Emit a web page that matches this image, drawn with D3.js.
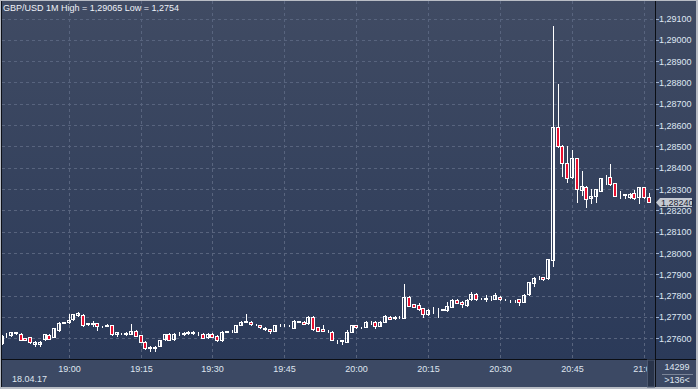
<!DOCTYPE html>
<html><head><meta charset="utf-8">
<script src="https://cdnjs.cloudflare.com/ajax/libs/d3/7.8.5/d3.min.js"></script>
<style>
html,body{margin:0;padding:0;background:#b9bdc5;overflow:hidden}
svg{display:block}
text{font-family:"Liberation Sans",Arial,sans-serif;font-size:9px}
</style>
</head><body>
<svg id="c" width="698" height="389"></svg>
<script>
// ---- data ----
const firstBar = "2017-04-18T18:46:00";   // 1-minute bars
const opens = [1.27579,1.27618,1.27614,1.27628,1.27620,1.27600,1.27605,1.27573,1.27575,1.27595,1.27615,1.27608,1.27639,1.27673,1.27676,1.27691,1.27709,1.27711,1.27670,1.27668,1.27670,1.27658,1.27660,1.27662,1.27619,1.27623,1.27626,1.27622,1.27636,1.27615,1.27584,1.27556,1.27558,1.27564,1.27595,1.27621,1.27595,1.27619,1.27621,1.27626,1.27628,1.27625,1.27620,1.27605,1.27620,1.27611,1.27592,1.27631,1.27632,1.27631,1.27664,1.27677,1.27678,1.27666,1.27662,1.27650,1.27642,1.27636,1.27662,1.27663,1.27660,1.27650,1.27678,1.27678,1.27670,1.27701,1.27652,1.27645,1.27635,1.27631,1.27592,1.27589,1.27584,1.27631,1.27662,1.27652,1.27654,1.27678,1.27678,1.27659,1.27678,1.27701,1.27697,1.27701,1.27697,1.27795,1.27759,1.27756,1.27741,1.27713,1.27740,1.27742,1.27736,1.27733,1.27748,1.27780,1.27772,1.27756,1.27783,1.27808,1.27786,1.27786,1.27788,1.27786,1.27795,1.27781,1.27776,1.27775,1.27783,1.27772,1.27806,1.27858,1.27883,1.27886,1.27881,1.27967,1.28590,1.28503,1.28421,1.28355,1.28444,1.28296,1.28311,1.28257,1.28269,1.28292,1.28356,1.28355,1.28327,1.28276,1.28277,1.28264,1.28280,1.28261,1.28308,1.28261];
const highs = [1.27614,1.27626,1.27631,1.27630,1.27623,1.27602,1.27608,1.27585,1.27585,1.27620,1.27618,1.27650,1.27676,1.27678,1.27714,1.27716,1.27725,1.27714,1.27673,1.27680,1.27672,1.27660,1.27667,1.27664,1.27630,1.27626,1.27628,1.27667,1.27638,1.27617,1.27586,1.27562,1.27562,1.27594,1.27622,1.27624,1.27624,1.27628,1.27630,1.27636,1.27634,1.27630,1.27623,1.27623,1.27623,1.27614,1.27634,1.27634,1.27637,1.27664,1.27680,1.27714,1.27680,1.27669,1.27664,1.27653,1.27644,1.27664,1.27665,1.27665,1.27662,1.27686,1.27681,1.27680,1.27706,1.27704,1.27655,1.27662,1.27637,1.27634,1.27594,1.27592,1.27639,1.27664,1.27664,1.27654,1.27680,1.27680,1.27680,1.27680,1.27709,1.27704,1.27704,1.27703,1.27855,1.27797,1.27762,1.27764,1.27743,1.27736,1.27748,1.27744,1.27738,1.27772,1.27783,1.27782,1.27774,1.27783,1.27817,1.27811,1.27788,1.27803,1.27800,1.27811,1.27798,1.27783,1.27778,1.27779,1.27785,1.27806,1.27866,1.27887,1.27892,1.27888,1.27974,1.29065,1.28793,1.28506,1.28502,1.28483,1.28447,1.28385,1.28314,1.28299,1.28302,1.28354,1.28366,1.28418,1.28330,1.28292,1.28279,1.28280,1.28296,1.28311,1.28311,1.28280];
const lows = [1.27575,1.27608,1.27611,1.27622,1.27590,1.27590,1.27579,1.27564,1.27566,1.27590,1.27595,1.27605,1.27636,1.27670,1.27673,1.27688,1.27706,1.27658,1.27664,1.27658,1.27639,1.27654,1.27656,1.27617,1.27611,1.27620,1.27617,1.27620,1.27609,1.27582,1.27550,1.27540,1.27542,1.27562,1.27592,1.27590,1.27592,1.27614,1.27617,1.27620,1.27620,1.27617,1.27600,1.27603,1.27605,1.27589,1.27589,1.27628,1.27630,1.27628,1.27662,1.27675,1.27662,1.27663,1.27648,1.27638,1.27623,1.27633,1.27660,1.27659,1.27656,1.27647,1.27675,1.27665,1.27667,1.27640,1.27633,1.27633,1.27631,1.27590,1.27579,1.27573,1.27582,1.27628,1.27650,1.27650,1.27652,1.27667,1.27650,1.27656,1.27675,1.27690,1.27692,1.27696,1.27694,1.27750,1.27745,1.27735,1.27698,1.27710,1.27717,1.27701,1.27732,1.27730,1.27745,1.27765,1.27748,1.27753,1.27780,1.27780,1.27783,1.27776,1.27780,1.27783,1.27781,1.27778,1.27772,1.27772,1.27756,1.27770,1.27803,1.27845,1.27877,1.27874,1.27878,1.27939,1.28495,1.28361,1.28335,1.28351,1.28241,1.28274,1.28215,1.28236,1.28241,1.28289,1.28322,1.28319,1.28266,1.28257,1.28257,1.28257,1.28254,1.28233,1.28258,1.28238];
const closes = [1.27611,1.27620,1.27628,1.27626,1.27592,1.27594,1.27581,1.27583,1.27583,1.27619,1.27598,1.27647,1.27673,1.27675,1.27686,1.27714,1.27720,1.27661,1.27668,1.27671,1.27658,1.27656,1.27662,1.27619,1.27628,1.27624,1.27619,1.27636,1.27611,1.27584,1.27553,1.27558,1.27556,1.27592,1.27619,1.27592,1.27620,1.27621,1.27624,1.27628,1.27627,1.27623,1.27603,1.27620,1.27608,1.27592,1.27631,1.27632,1.27634,1.27662,1.27678,1.27679,1.27665,1.27667,1.27652,1.27642,1.27634,1.27662,1.27663,1.27661,1.27659,1.27683,1.27679,1.27667,1.27701,1.27642,1.27636,1.27636,1.27634,1.27592,1.27590,1.27590,1.27628,1.27662,1.27652,1.27651,1.27678,1.27677,1.27659,1.27678,1.27706,1.27692,1.27699,1.27699,1.27795,1.27753,1.27748,1.27737,1.27714,1.27733,1.27742,1.27741,1.27734,1.27751,1.27780,1.27767,1.27759,1.27780,1.27806,1.27783,1.27785,1.27788,1.27787,1.27803,1.27784,1.27780,1.27775,1.27777,1.27770,1.27803,1.27863,1.27884,1.27885,1.27877,1.27971,1.28590,1.28503,1.28421,1.28351,1.28444,1.28299,1.28314,1.28252,1.28268,1.28299,1.28351,1.28358,1.28322,1.28269,1.28278,1.28270,1.28277,1.28257,1.28308,1.28261,1.28240];
const timeTicks = ["19:00","19:15","19:30","19:45","20:00","20:15","20:30","20:45","21:00"];
const priceTicks = [1.276,1.277,1.278,1.279,1.280,1.281,1.282,1.283,1.284,1.285,1.286,1.287,1.288,1.289,1.290,1.291];
const title = "GBP/USD 1M High = 1,29065 Low = 1,2754";
const dateLabel = "18.04.17";
const lastPrice = 1.28240;
const infoTop = "14299", infoBottom = ">136<";

// ---- drawing ----
const svg = d3.select("#c");
const W = 698, H = 389;
const PL = 2, PR = 655, PT = 1, PB = 359, BB = 387, RR = 696;

const t0 = new Date(firstBar);
const bars = opens.map((o, i) => ({
  t: d3.timeMinute.offset(t0, i), o, h: highs[i], l: lows[i], c: closes[i]
}));
const x = d3.scaleTime()
  .domain([bars[0].t, bars[bars.length - 1].t])
  .range([2.5, 649.8]);
const y = d3.scaleLinear().domain([1.276, 1.291]).range([338.3, 18.5]);
const fmt = v => d3.format(".5f")(v).replace(".", ",");

const defs = svg.append("defs");
const g1 = defs.append("linearGradient").attr("id", "bg").attr("x1", 0).attr("y1", 0).attr("x2", 0).attr("y2", 1);
g1.append("stop").attr("offset", "0%").attr("stop-color", "#404b63");
g1.append("stop").attr("offset", "100%").attr("stop-color", "#2b3a59");
defs.append("clipPath").attr("id", "pc").append("rect")
  .attr("x", PL).attr("y", PT).attr("width", PR - PL).attr("height", PB - PT);
defs.append("clipPath").attr("id", "bc").append("rect")
  .attr("x", PL).attr("y", PB + 1).attr("width", PR - PL).attr("height", BB - PB - 1);

// frame
svg.append("rect").attr("x", 0).attr("y", 0).attr("width", W).attr("height", H).attr("fill", "#b9bdc5");
svg.append("rect").attr("x", 1).attr("y", 1).attr("width", RR - 1).attr("height", BB - 1).attr("fill", "#0e1118");
// plot bg
svg.append("rect").attr("x", PL).attr("y", PT).attr("width", PR - PL).attr("height", PB - PT).attr("fill", "url(#bg)");
// right panel bg
svg.append("rect").attr("x", PR + 1).attr("y", PT).attr("width", RR - PR - 1).attr("height", PB - PT).attr("fill", "url(#bg)");
// bottom panel
svg.append("rect").attr("x", PL).attr("y", PB + 1).attr("width", PR - PL).attr("height", BB - PB - 1).attr("fill", "#3c4964");
svg.append("rect").attr("x", PR + 1).attr("y", PB + 1).attr("width", RR - PR - 1).attr("height", BB - PB - 1).attr("fill", "#3c4964");

// grid
const grid = svg.append("g").attr("clip-path", "url(#pc)")
  .attr("stroke", "#58647e").attr("stroke-width", 1).attr("stroke-dasharray", "3,3");
grid.selectAll("line.h").data(priceTicks).join("line").attr("class", "h")
  .attr("x1", PL).attr("x2", PR)
  .attr("y1", d => Math.round(y(d)) + 0.5).attr("y2", d => Math.round(y(d)) + 0.5);
const tickDates = timeTicks.map(s => new Date("2017-04-18T" + s + ":00"));
grid.selectAll("line.v").data(tickDates).join("line").attr("class", "v")
  .attr("y1", PT).attr("y2", PB)
  .attr("x1", d => Math.round(x(d)) - 0.5).attr("x2", d => Math.round(x(d)) - 0.5);

// candles
const cg = svg.append("g").attr("clip-path", "url(#pc)");
const cx = d => Math.round(x(d.t));
cg.selectAll("line.w").data(bars).join("line").attr("class", "w")
  .attr("x1", d => cx(d) - 0.5).attr("x2", d => cx(d) - 0.5)
  .attr("y1", d => Math.round(y(d.h))).attr("y2", d => Math.round(y(d.l)) + 1)
  .attr("stroke", "#ffffff").attr("stroke-width", 1);
cg.selectAll("rect.b").data(bars).join("rect").attr("class", "b")
  .attr("x", d => cx(d) - 2.5)
  .attr("width", 3)
  .attr("y", d => Math.round(y(Math.max(d.o, d.c))) + 0.5)
  .attr("height", d => Math.max(0, Math.round(y(Math.min(d.o, d.c))) - Math.round(y(Math.max(d.o, d.c)))))
  .attr("fill", d => d.c < d.o ? "#e8102f" : "#33425e")
  .attr("stroke", "#ffffff").attr("stroke-width", 1);
// hollow bodies: transparent fill so gradient shows
cg.selectAll("rect.b").filter(d => d.c >= d.o).attr("fill", "none");

// title
svg.append("text").attr("x", 3).attr("y", 11).attr("fill", "#eef1f7").text(title);

// separator lines
svg.append("line").attr("x1", PR + 0.5).attr("x2", PR + 0.5).attr("y1", PT).attr("y2", BB).attr("stroke", "#0b0e14");
svg.append("line").attr("x1", PL).attr("x2", RR).attr("y1", PB + 0.5).attr("y2", PB + 0.5).attr("stroke", "#0b0e14");

// right axis
const ra = svg.append("g");
ra.selectAll("line").data(priceTicks).join("line")
  .attr("x1", PR + 1).attr("x2", PR + 4)
  .attr("y1", d => Math.round(y(d)) + 0.5).attr("y2", d => Math.round(y(d)) + 0.5)
  .attr("stroke", "#9fb2d0");
ra.selectAll("text").data(priceTicks).join("text")
  .attr("x", 659).attr("y", d => y(d) + 3.5)
  .attr("fill", "#dfe7f3").text(d => fmt(d));

// last price marker
const yl = Math.round(y(lastPrice)) + 0.5;
svg.append("path")
  .attr("d", `M${PR + 1},${yl} L${PR + 5},${yl - 4.5} L692,${yl - 4.5} L692,${yl + 4.5} L${PR + 5},${yl + 4.5} Z`)
  .attr("fill", "#c4c9d2");
svg.append("text").attr("x", 661).attr("y", yl + 3.5).attr("fill", "#1b2335").text(fmt(lastPrice));

// bottom axis
const ba = svg.append("g").attr("clip-path", "url(#bc)");
ba.selectAll("text").data(tickDates).join("text")
  .attr("x", d => Math.round(x(d)) - 0.5).attr("y", 372)
  .attr("text-anchor", "middle").attr("fill", "#dfe5ef")
  .text((d, i) => timeTicks[i]);
svg.append("text").attr("x", 12).attr("y", 382).attr("fill", "#dfe5ef").text(dateLabel);
// scroll strip
svg.append("rect").attr("x", 647.5).attr("y", PB + 1).attr("width", 7).attr("height", BB - PB - 1)
  .attr("fill", "#29344a").attr("stroke", "#4c5870").attr("stroke-width", 1);

// info box
svg.append("text").attr("x", 677).attr("y", 370).attr("text-anchor", "middle").attr("fill", "#dfe5ef").text(infoTop);
svg.append("line").attr("x1", 662).attr("x2", 693).attr("y1", 374.5).attr("y2", 374.5).attr("stroke", "#7b8598");
svg.append("text").attr("x", 677).attr("y", 383).attr("text-anchor", "middle").attr("fill", "#dfe5ef").text(infoBottom);
</script>
</body></html>
